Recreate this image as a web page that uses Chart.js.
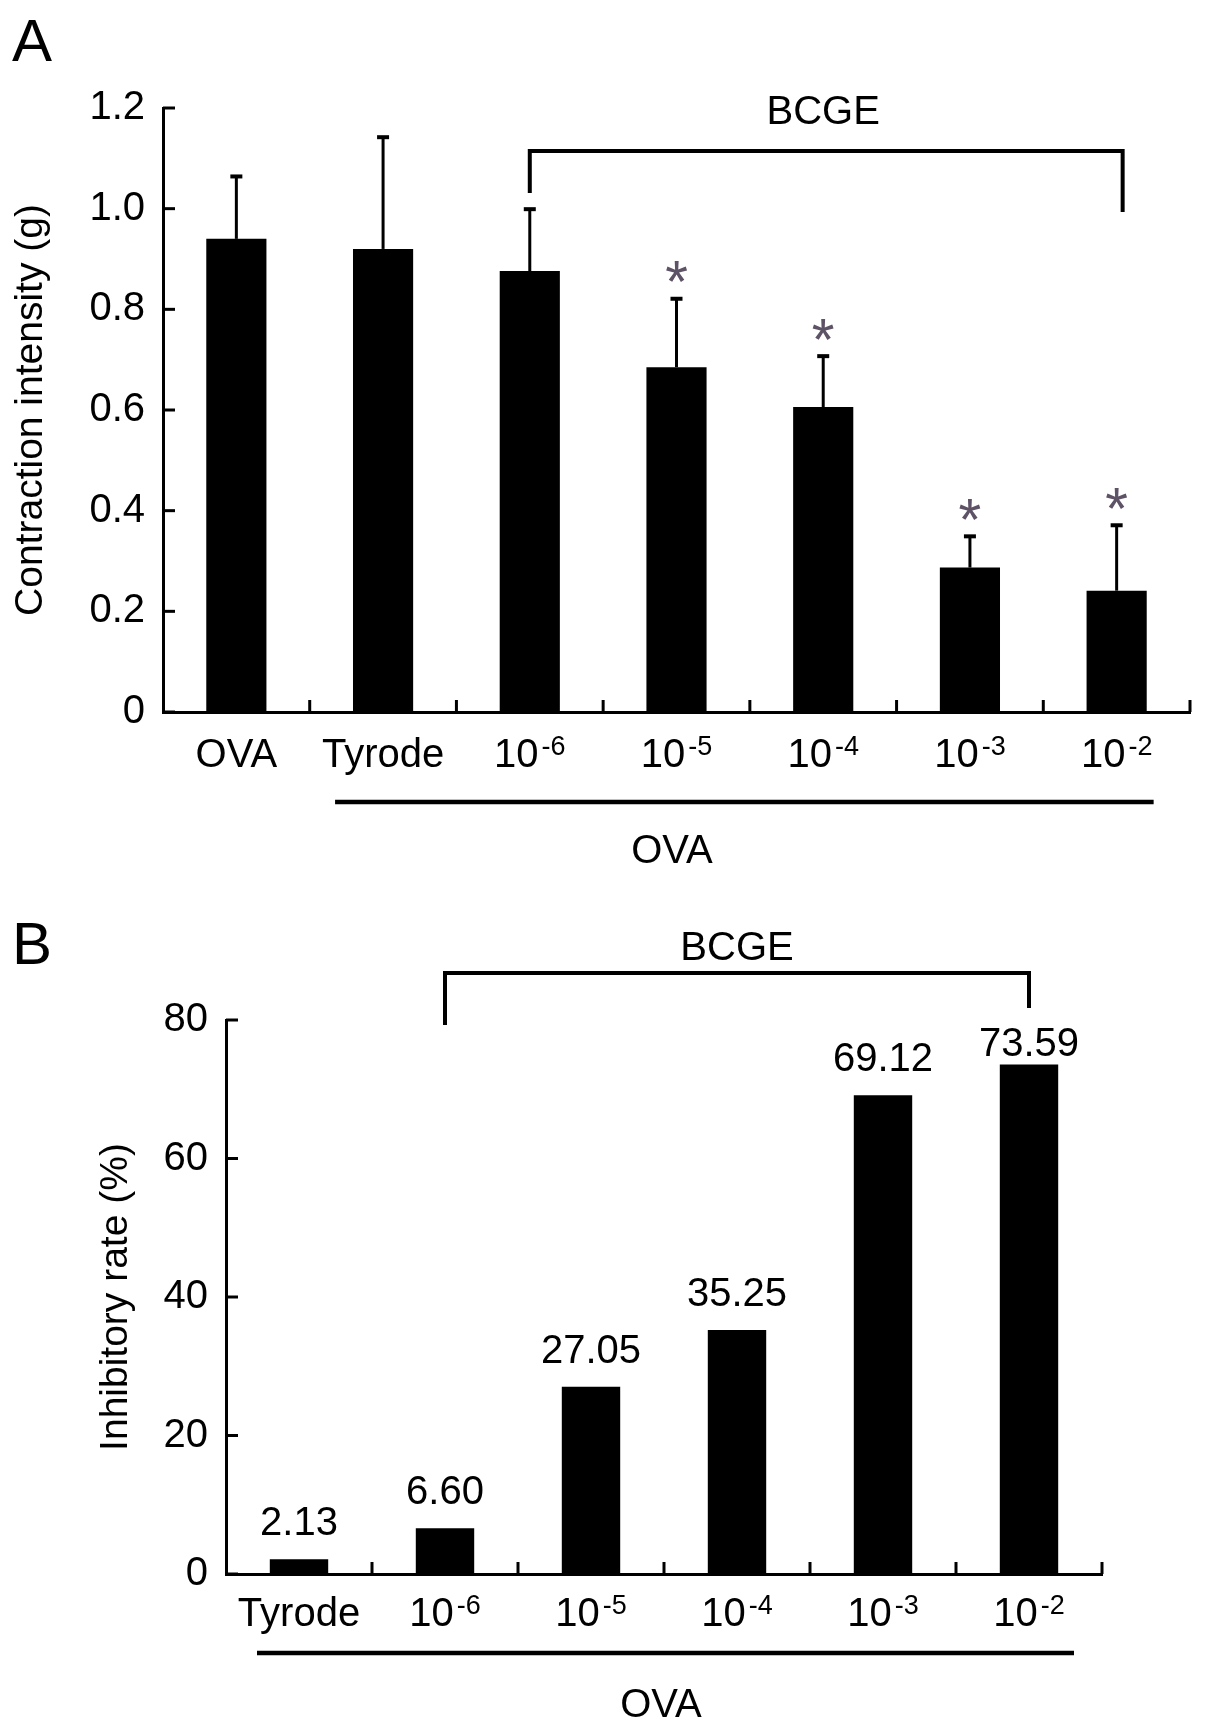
<!DOCTYPE html>
<html lang="en">
<head>
<meta charset="utf-8">
<title>BCGE - contraction intensity and inhibitory rate</title>
<script src="https://cdn.jsdelivr.net/npm/chart.js@4.4.1/dist/chart.umd.min.js"></script>
<style>
  html, body { margin: 0; padding: 0; background: #fff; }
  .page { position: relative; width: 1205px; height: 1728px; }
  canvas { position: absolute; left: 0; }
  #chartA { top: 0; }
  #chartB { top: 880px; }
</style>
</head>
<body>
<div class="page">
  <canvas id="chartA" width="1205" height="880"></canvas>
  <canvas id="chartB" width="1205" height="848"></canvas>
</div>
<script>
// panel A : contraction intensity (g), mean + SD
const labelsA = ['OVA', 'Tyrode', '10^-6', '10^-5', '10^-4', '10^-3', '10^-2'];
const meanA = [0.94, 0.92, 0.876, 0.685, 0.606, 0.287, 0.241];
const sdA = [0.124, 0.222, 0.123, 0.136, 0.101, 0.062, 0.130];
const starA = [false, false, false, true, true, true, true];
const ticksA = [0, 0.2, 0.4, 0.6, 0.8, 1.0, 1.2];

// panel B : inhibitory rate (%)
const labelsB = ['Tyrode', '10^-6', '10^-5', '10^-4', '10^-3', '10^-2'];
const rateB = [2.13, 6.60, 27.05, 35.25, 69.12, 73.59];
const ticksB = [0, 20, 40, 60, 80];

const FONT = '"Liberation Sans", Arial, sans-serif';
Chart.defaults.font.family = FONT;
Chart.defaults.color = '#000';

// label like "10^-6" -> "10" with a raised "-6"
function drawCatLabel(ctx, text, cx, baseline) {
  const parts = text.split('^');
  ctx.font = '40px ' + FONT;
  const wb = ctx.measureText(parts[0]).width;
  let ws = 0;
  if (parts[1]) {
    ctx.font = '27px ' + FONT;
    ws = ctx.measureText(parts[1]).width + 3;
  }
  const x0 = cx - (wb + ws) / 2;
  ctx.textAlign = 'left';
  ctx.textBaseline = 'alphabetic';
  ctx.font = '40px ' + FONT;
  ctx.fillText(parts[0], x0, baseline);
  if (parts[1]) {
    ctx.font = '27px ' + FONT;
    ctx.fillText(parts[1], x0 + wb + 3, baseline - 12);
  }
}

function line(ctx, pts, w) {
  ctx.lineWidth = w;
  ctx.beginPath();
  ctx.moveTo(pts[0][0], pts[0][1]);
  for (let i = 1; i < pts.length; i++) ctx.lineTo(pts[i][0], pts[i][1]);
  ctx.stroke();
}

// ticks pointing into the plot, y at values and x at category edges
function inwardTicks(chart, yTicks) {
  const { ctx, chartArea: a, scales: { x, y } } = chart;
  const step = x.getPixelForValue(1) - x.getPixelForValue(0);
  ctx.strokeStyle = '#000';
  ctx.lineCap = 'butt';
  yTicks.forEach(v => {
    const py = y.getPixelForValue(v);
    line(ctx, [[a.left, py], [a.left + 12, py]], 3);
  });
  for (let i = 0; i < x.ticks.length; i++) {
    const px = x.getPixelForValue(i) + step / 2;
    line(ctx, [[px, a.bottom], [px, a.bottom - 12]], 3);
  }
}

function bracket(ctx, x1, x2, yTop, yLeft, yRight, cx, textBase) {
  ctx.strokeStyle = '#000';
  ctx.lineJoin = 'miter';
  line(ctx, [[x1, yLeft], [x1, yTop], [x2, yTop], [x2, yRight]], 4);
  ctx.fillStyle = '#000';
  ctx.font = '40px ' + FONT;
  ctx.textAlign = 'center';
  ctx.textBaseline = 'alphabetic';
  ctx.fillText('BCGE', cx, textBase);
}

function asterisk(ctx, cx, cy) {
  ctx.font = '100px ' + FONT;
  const m0 = ctx.measureText('*');
  const h0 = m0.actualBoundingBoxAscent + m0.actualBoundingBoxDescent;
  const size = 100 * 21 / h0;
  ctx.font = size + 'px ' + FONT;
  const m = ctx.measureText('*');
  const base = cy + (m.actualBoundingBoxAscent - m.actualBoundingBoxDescent) / 2;
  ctx.fillStyle = '#5d5266';
  ctx.textAlign = 'center';
  ctx.textBaseline = 'alphabetic';
  ctx.fillText('*', cx, base);
}

const decorA = {
  id: 'decorA',
  afterDraw(chart) {
    const { ctx, chartArea: a, scales: { x, y } } = chart;
    ctx.save();
    inwardTicks(chart, ticksA);

    // error bars and significance marks
    const meta = chart.getDatasetMeta(0);
    meta.data.forEach((bar, i) => {
      const top = y.getPixelForValue(meanA[i] + sdA[i]);
      ctx.strokeStyle = '#000';
      line(ctx, [[bar.x, bar.y], [bar.x, top]], 3);
      line(ctx, [[bar.x - 6, top], [bar.x + 6, top]], 4);
      if (starA[i]) asterisk(ctx, bar.x, top - 27);
    });

    ctx.fillStyle = '#000';
    labelsA.forEach((t, i) => drawCatLabel(ctx, t, x.getPixelForValue(i), a.bottom + 55));

    bracket(ctx, x.getPixelForValue(2), x.getPixelForValue(6) + 6, 151, 193, 212,
      (x.getPixelForValue(2) + x.getPixelForValue(6)) / 2, 124);

    // OVA group line
    ctx.strokeStyle = '#000';
    line(ctx, [[x.getPixelForValue(1) - 48, a.bottom + 90], [x.getPixelForValue(6) + 37, a.bottom + 90]], 4.5);
    ctx.fillStyle = '#000';
    ctx.font = '40px ' + FONT;
    ctx.textAlign = 'center';
    ctx.fillText('OVA', 672, a.bottom + 151);

    ctx.font = '60px ' + FONT;
    ctx.textAlign = 'left';
    ctx.fillText('A', 12, 61);
    ctx.restore();
  }
};

const decorB = {
  id: 'decorB',
  afterDraw(chart) {
    const { ctx, chartArea: a, scales: { x, y } } = chart;
    ctx.save();
    inwardTicks(chart, ticksB);

    // values above bars, kept under the bracket
    const meta = chart.getDatasetMeta(0);
    ctx.fillStyle = '#000';
    ctx.font = '40px ' + FONT;
    ctx.textAlign = 'center';
    ctx.textBaseline = 'alphabetic';
    meta.data.forEach((bar, i) => {
      const base = Math.max(bar.y - 24, y.getPixelForValue(80) + 36);
      ctx.fillText(rateB[i].toFixed(2), bar.x, base);
    });

    labelsB.forEach((t, i) => drawCatLabel(ctx, t, x.getPixelForValue(i), a.bottom + 52));

    bracket(ctx, x.getPixelForValue(1), x.getPixelForValue(5), 93, 145, 128,
      (x.getPixelForValue(1) + x.getPixelForValue(5)) / 2, 80);

    ctx.strokeStyle = '#000';
    line(ctx, [[x.getPixelForValue(0) - 42, a.bottom + 79], [x.getPixelForValue(5) + 45, a.bottom + 79]], 4.5);
    ctx.fillStyle = '#000';
    ctx.font = '40px ' + FONT;
    ctx.textAlign = 'center';
    ctx.fillText('OVA', 661, a.bottom + 143);

    ctx.font = '60px ' + FONT;
    ctx.textAlign = 'left';
    ctx.fillText('B', 12, 84);
    ctx.restore();
  }
};

function barChart(canvas, labels, values, opts) {
  return new Chart(canvas, {
    type: 'bar',
    data: {
      labels: labels,
      datasets: [{
        data: values,
        backgroundColor: '#000',
        borderWidth: 0,
        categoryPercentage: 1,
        barPercentage: opts.barPct
      }]
    },
    options: {
      responsive: false,
      animation: false,
      devicePixelRatio: 1,
      layout: { padding: { top: opts.top, right: opts.right, left: 0, bottom: 0 } },
      plugins: { legend: { display: false }, tooltip: { enabled: false } },
      scales: {
        x: {
          grid: { display: false, drawTicks: false },
          border: { display: true, color: '#000', width: 3 },
          ticks: { display: false },
          afterFit: s => { s.height = opts.xHeight; }
        },
        y: {
          min: opts.min,
          max: opts.max,
          grid: { display: false, drawTicks: false },
          border: { display: true, color: '#000', width: 3 },
          afterBuildTicks: s => { s.ticks = opts.ticks.map(v => ({ value: v })); },
          ticks: {
            font: { size: 40 },
            color: '#000',
            padding: 18,
            callback: opts.fmt
          },
          title: {
            display: true,
            text: opts.title,
            color: '#000',
            font: { size: 39 },
            padding: { top: opts.titlePad, bottom: 0 }
          },
          afterFit: s => { s.width = opts.yWidth; }
        }
      }
    },
    plugins: [opts.decor]
  });
}

barChart(document.getElementById('chartA'), labelsA, meanA, {
  barPct: 0.41, top: 108, right: 15, xHeight: 168, yWidth: 163,
  min: 0, max: 1.2, ticks: ticksA,
  fmt: v => (v === 0 ? '0' : Number(v).toFixed(1)),
  title: 'Contraction intensity (g)', titlePad: 8, decor: decorA
});

barChart(document.getElementById('chartB'), labelsB, rateB, {
  barPct: 0.40, top: 140, right: 103, xHeight: 154, yWidth: 226,
  min: 0, max: 80, ticks: ticksB,
  fmt: v => String(v),
  title: 'Inhibitory rate (%)', titlePad: 93, decor: decorB
});
</script>
</body>
</html>
